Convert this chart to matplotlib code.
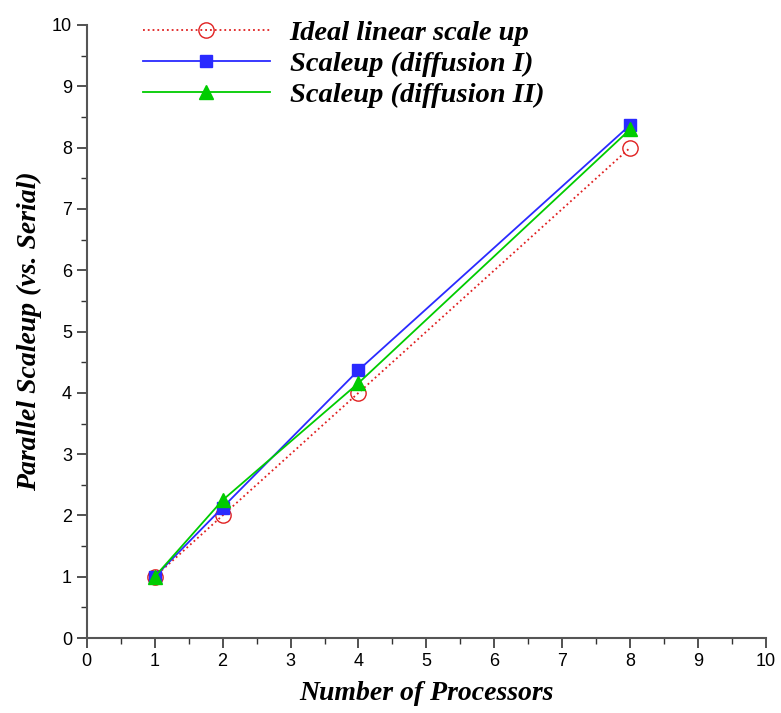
import matplotlib
matplotlib.use("Agg")
import matplotlib.pyplot as plt
from matplotlib.ticker import MultipleLocator

processors = [1, 2, 4, 8]
ideal = [1, 2, 4, 8]
diffusion_1 = [1, 2.13, 4.37, 8.37]
diffusion_2 = [1, 2.25, 4.16, 8.30]

fig = plt.figure(figsize=(7.81, 7.13), dpi=100)
ax = fig.add_axes([0.111, 0.105, 0.870, 0.860])

ax.plot(processors, ideal, color='#e02020', linestyle=':', linewidth=1.3,
        marker='o', markersize=11, markerfacecolor='none', markeredgecolor='#e02020',
        label='Ideal linear scale up')
ax.plot(processors, diffusion_1, color='#2a2aff', linewidth=1.3,
        marker='s', markersize=8.5, label='Scaleup (diffusion I)')
ax.plot(processors, diffusion_2, color='#00cc00', linewidth=1.3,
        marker='^', markersize=10, label='Scaleup (diffusion II)')

ax.set_xlim(0, 10)
ax.set_ylim(0, 10)
ax.xaxis.set_major_locator(MultipleLocator(1))
ax.yaxis.set_major_locator(MultipleLocator(1))
ax.xaxis.set_minor_locator(MultipleLocator(0.5))
ax.yaxis.set_minor_locator(MultipleLocator(0.5))

for s in ['top', 'right']:
    ax.spines[s].set_visible(False)
for s in ['left', 'bottom']:
    ax.spines[s].set_color('#555555')
    ax.spines[s].set_linewidth(1.5)

ax.tick_params(which='major', direction='out', length=7, width=1.2, color='#333333',
               labelsize=13)
ax.tick_params(which='minor', direction='out', length=4, width=1.0, color='#333333')
for lab in ax.get_xticklabels() + ax.get_yticklabels():
    lab.set_family('Liberation Sans')

label_font = dict(family='Liberation Serif', style='italic', weight='bold', size=20)
ax.set_xlabel('Number of Processors', labelpad=8, **label_font)
ax.set_ylabel('Parallel Scaleup (vs. Serial)', labelpad=7, **label_font)

ax.legend(loc='upper left', bbox_to_anchor=(0.045, 1.05), frameon=False,
          handlelength=4.45, handletextpad=0.7, labelspacing=0.18,
          prop=dict(family='Liberation Serif', style='italic', weight='bold', size=20.5))

fig.savefig('out.png', dpi=100)
